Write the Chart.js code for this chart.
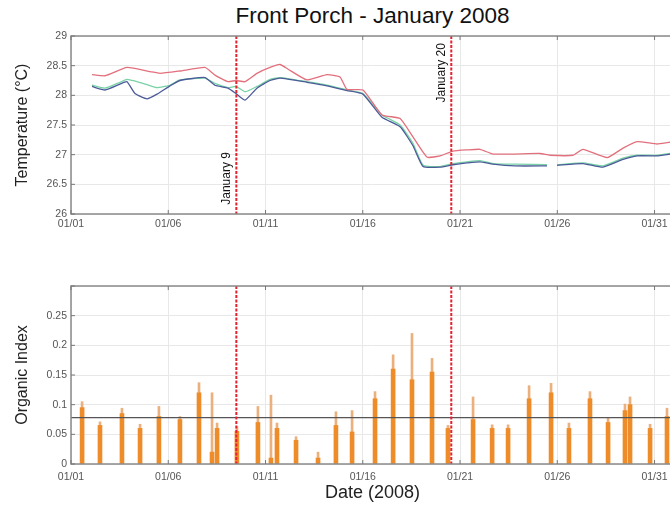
<!DOCTYPE html>
<html><head><meta charset="utf-8">
<script src="https://cdn.jsdelivr.net/npm/chart.js@4/dist/chart.umd.min.js"></script>
<style>
html,body{margin:0;padding:0;background:#fff;width:670px;height:505px;overflow:hidden;position:relative;font-family:'Liberation Sans',Arial,sans-serif}
#title{position:absolute;left:71px;width:603px;top:3px;text-align:center;font-size:22.5px;color:#111;line-height:26px;white-space:nowrap}
#c1{position:absolute;left:0;top:0}
#c2{position:absolute;left:0;top:240px}
</style></head><body>
<div id="title">Front Porch - January 2008</div>
<canvas id="c1" width="690" height="240" style="width:690px;height:240px"></canvas>
<canvas id="c2" width="690" height="265" style="width:690px;height:265px"></canvas>
<script>
// ---- data (x values are days of January 2008; 1 = 01/01 00:00) ----
const xTickDays   = [1, 6, 11, 16, 21, 26, 31];
const xTickLabels = ['01/01', '01/06', '01/11', '01/16', '01/21', '01/26', '01/31'];

const redDays = [2.08, 2.75, 3.88, 5.06, 5.58, 6.60, 7.89, 8.40, 9.07, 9.48, 9.95, 10.56, 11.23, 11.75, 12.16, 13.13, 14.16, 14.83, 15.19, 16.01, 16.99, 17.92, 18.58, 19.30, 19.97, 20.64, 21.36, 22.03, 22.70, 25.11, 25.63, 26.81, 27.32, 28.56, 29.38, 30.10, 31.13, 31.80, 32.10];
const redTemp = [28.35, 28.33, 28.47, 28.40, 28.37, 28.41, 28.47, 28.34, 28.23, 28.25, 28.23, 28.37, 28.47, 28.52, 28.44, 28.26, 28.35, 28.31, 28.10, 28.09, 27.67, 27.61, 27.30, 26.96, 26.98, 27.06, 27.08, 27.09, 27.01, 27.02, 26.99, 26.99, 27.09, 26.95, 27.11, 27.22, 27.18, 27.21, 27.21];

const gbDays = [2.08, 2.75, 3.52, 3.88, 4.29, 4.91, 5.42, 6.09, 6.60, 7.89, 8.40, 9.07, 9.48, 9.95, 10.56, 11.23, 11.75, 13.13, 14.16, 15.19, 16.01, 16.99, 17.92, 18.58, 19.10, 19.97, 20.64, 21.36, 22.03, 22.70, 23.83, 25.47, 25.73, 25.99, 27.32, 28.35, 29.38, 30.10, 31.13, 31.80, 32.10];
const greenTemp = [28.17, 28.12, 28.22, 28.27, 28.24, 28.18, 28.13, 28.17, 28.26, 28.29, 28.20, 28.13, 28.15, 28.06, 28.15, 28.27, 28.30, 28.23, 28.17, 28.09, 28.03, 27.67, 27.50, 27.19, 26.82, 26.80, 26.85, 26.88, 26.90, 26.85, 26.84, 26.83, null, 26.83, 26.86, 26.81, 26.94, 26.99, 26.99, 27.02, 27.02];
const blueTemp  = [28.15, 28.09, 28.19, 28.23, 28.03, 27.94, 28.02, 28.16, 28.25, 28.30, 28.17, 28.12, 28.03, 27.92, 28.12, 28.25, 28.29, 28.22, 28.16, 28.08, 28.02, 27.63, 27.47, 27.15, 26.80, 26.79, 26.83, 26.86, 26.88, 26.84, 26.81, 26.81, null, 26.82, 26.85, 26.79, 26.92, 26.98, 26.98, 27.01, 27.01];

const spikeDays  = [1.57, 2.49, 3.62, 4.55, 5.52, 6.60, 7.58, 8.25, 8.51, 9.53, 10.61, 11.28, 11.59, 12.57, 13.70, 14.62, 15.45, 16.63, 17.56, 18.53, 19.56, 20.38, 21.67, 22.65, 23.47, 24.55, 25.68, 26.60, 27.68, 28.61, 29.48, 29.74, 30.77, 31.64];
const spikeBody  = [0.095, 0.065, 0.085, 0.060, 0.080, 0.075, 0.120, 0.020, 0.060, 0.055, 0.070, 0.010, 0.060, 0.040, 0.010, 0.065, 0.054, 0.110, 0.160, 0.142, 0.155, 0.060, 0.075, 0.060, 0.060, 0.110, 0.120, 0.060, 0.110, 0.070, 0.090, 0.100, 0.060, 0.080];
const spikePeak  = [0.105, 0.071, 0.094, 0.067, 0.097, 0.080, 0.137, 0.120, 0.069, 0.063, 0.097, 0.116, 0.069, 0.046, 0.020, 0.088, 0.090, 0.122, 0.184, 0.220, 0.178, 0.065, 0.113, 0.066, 0.066, 0.132, 0.136, 0.069, 0.122, 0.078, 0.101, 0.113, 0.067, 0.094];

const organicThreshold = 0.078;
const markerDays   = [9.5, 20.55];
const markerLabels = ['January 9', 'January 20'];
const tempYTicks = [26, 26.5, 27, 27.5, 28, 28.5, 29];
const organicYTicks = [0, 0.05, 0.1, 0.15, 0.2, 0.25, 0.3];

// ---- helpers ----
const FONT = "'Liberation Sans', Arial, sans-serif";
Chart.defaults.font.family = FONT;
Chart.defaults.color = '#444';
const pts = (xs, ys) => xs.map((x, i) => ({x: x, y: ys[i]}));
const GRID = '#e8e8e8';

function xScale(height, pad, title) {
  return {
    type: 'linear', min: 1, max: 32, offset: false,
    afterBuildTicks: s => { s.ticks = xTickDays.map(v => ({value: v})); },
    ticks: { callback: (v, i) => xTickLabels[i], font: {size: 10.5}, color: '#555', padding: pad, maxRotation: 0, autoSkip: false },
    grid: { color: GRID, drawTicks: false, offset: false },
    border: { display: false },
    title: title,
    afterFit: s => { s.height = height; }
  };
}

const framePlugin = {
  id: 'frame',
  afterDatasetsDraw(chart, args, opts) {
    const {ctx, chartArea: a, scales} = chart;
    const xs = scales.x, ys = scales.y;
    ctx.save();
    ctx.beginPath();
    ctx.rect(a.left, a.top, a.right - a.left, a.bottom - a.top);
    ctx.clip();
    ctx.strokeStyle = '#e8202c';
    ctx.lineWidth = 2;
    ctx.setLineDash([3, 1.5]);
    markerDays.forEach(d => {
      const px = xs.getPixelForValue(d);
      ctx.beginPath(); ctx.moveTo(px, a.top); ctx.lineTo(px, a.bottom); ctx.stroke();
    });
    ctx.restore();
    ctx.save();
    if (opts.labels) {
      ctx.fillStyle = '#111';
      ctx.font = '12px ' + FONT;
      ctx.textAlign = 'center';
      ctx.textBaseline = 'middle';
      markerDays.forEach((d, i) => {
        const px = xs.getPixelForValue(d) - 10;
        const py = ys.getPixelForValue(opts.labelY[i]);
        ctx.save();
        ctx.translate(px, py);
        ctx.rotate(-Math.PI / 2);
        ctx.fillText(markerLabels[i], 0, 0);
        ctx.restore();
      });
    }
    ctx.strokeStyle = '#8a8a8a';
    ctx.lineWidth = 1.5;
    ctx.setLineDash([]);
    ctx.strokeRect(a.left, a.top, a.right - a.left, a.bottom - a.top);
    ctx.lineWidth = 1;
    ctx.strokeStyle = '#777';
    xs.ticks.forEach(t => {
      const px = xs.getPixelForValue(t.value);
      ctx.beginPath();
      ctx.moveTo(px, a.bottom); ctx.lineTo(px, a.bottom - 4);
      ctx.moveTo(px, a.top); ctx.lineTo(px, a.top + 4);
      ctx.stroke();
    });
    ys.ticks.forEach(t => {
      const py = ys.getPixelForValue(t.value);
      ctx.beginPath();
      ctx.moveTo(a.left, py); ctx.lineTo(a.left + 4, py);
      ctx.stroke();
    });
    ctx.restore();
  }
};

// ---- top chart: temperature ----
new Chart(document.getElementById('c1'), {
  type: 'line',
  data: {
    datasets: [
      { data: pts(redDays, redTemp), borderColor: '#e2707c', borderWidth: 1.3, pointRadius: 0, tension: 0.15 },
      { data: pts(gbDays, blueTemp), borderColor: '#4b5a98', borderWidth: 1.3, pointRadius: 0, tension: 0.15, spanGaps: false },
      { data: pts(gbDays, greenTemp), borderColor: '#78d2a6', borderWidth: 1.3, pointRadius: 0, tension: 0.15, spanGaps: false }
    ]
  },
  options: {
    responsive: false, animation: false,
    layout: { padding: { top: 36, right: 16, left: 0, bottom: 0 } },
    plugins: { legend: { display: false }, tooltip: { enabled: false },
      frame: { labels: true, labelY: [26.6, 28.38] } },
    scales: {
      x: xScale(26, 4, { display: false }),
      y: {
        min: 26, max: 29,
        afterBuildTicks: s => { s.ticks = tempYTicks.map(v => ({value: v})); },
        ticks: { font: {size: 10.5}, color: '#555', padding: 4, callback: v => String(v) },
        grid: { color: GRID, drawTicks: false },
        border: { display: false },
        title: { display: true, text: 'Temperature (°C)', font: {size: 16}, color: '#222', padding: {top: 13, bottom: 0} },
        afterFit: s => { s.width = 71; }
      }
    }
  },
  plugins: [framePlugin]
});

// ---- bottom chart: organic index ----
new Chart(document.getElementById('c2'), {
  type: 'bar',
  data: {
    datasets: [
      { type: 'bar', data: pts(spikeDays, spikePeak), backgroundColor: '#eab07e', barThickness: 2, grouped: false, order: 3 },
      { type: 'bar', data: pts(spikeDays, spikeBody), backgroundColor: '#ef8c2a', barThickness: 4, grouped: false, order: 2 },
      { type: 'line', data: [{x: 1, y: organicThreshold}, {x: 32, y: organicThreshold}], borderColor: '#555', borderWidth: 1.2, pointRadius: 0, order: 1 }
    ]
  },
  options: {
    responsive: false, animation: false,
    layout: { padding: { top: 46, right: 16, left: 0, bottom: 0 } },
    plugins: { legend: { display: false }, tooltip: { enabled: false }, frame: { labels: false } },
    scales: {
      x: xScale(41, 7, { display: true, text: 'Date (2008)', font: {size: 18}, color: '#222', padding: {top: 0, bottom: 1} }),
      y: {
        min: 0, max: 0.3,
        afterBuildTicks: s => { s.ticks = organicYTicks.map(v => ({value: v})); },
        ticks: { font: {size: 10.5}, color: '#555', padding: 4,
          callback: v => v > 0.29 ? '' : String(v) },
        grid: { color: GRID, drawTicks: false },
        border: { display: false },
        title: { display: true, text: 'Organic Index', font: {size: 16}, color: '#222', padding: {top: 13, bottom: 0} },
        afterFit: s => { s.width = 71; }
      }
    }
  },
  plugins: [framePlugin]
});
</script>
</body></html>
